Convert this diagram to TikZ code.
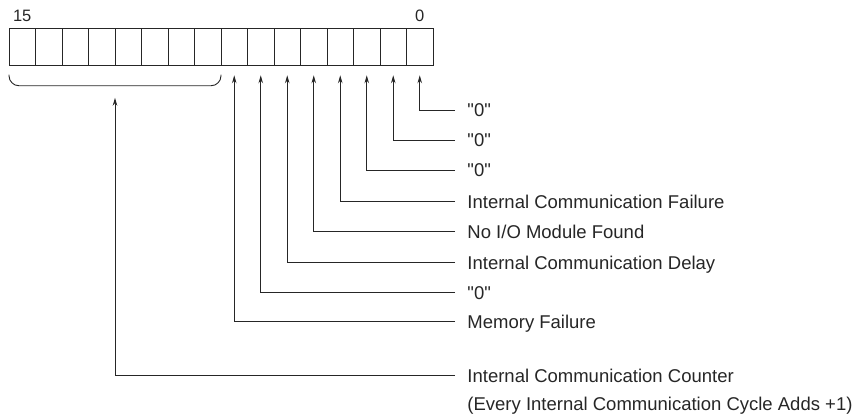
\documentclass[tikz,border=0pt]{standalone}
\usepackage{fontspec}
\setmainfont{Liberation Sans}[Ligatures=TeXOff]
\usetikzlibrary{arrows.meta,calc,positioning}
\newcommand{\Lbl}{\fontsize{18.5}{28}\selectfont}

\begin{document}
\begin{tikzpicture}[x=1pt, y=-1pt, >={Stealth[length=8pt,width=4.5pt]}, line width=0.9pt, color=black!85,
    cell/.style={draw, minimum width=26.5pt, minimum height=37.5pt, inner sep=0pt, outer sep=0pt},
    bitno/.style={anchor=base, inner sep=0pt, font=\fontsize{16.5}{18}\selectfont},
    lbl/.style={anchor=base west, inner sep=0pt, font=\Lbl}]

            \useasboundingbox (0,0) rectangle (856,414);

            % register cells, bit 15 on the left
            \foreach \b in {0,...,15}
                \draw({9+26.5*(15.5-\b)},47) node[cell] (c\b) {};
            \node[bitno] (n15) at ([yshift=6.5pt]c15.north) {15};
            \node[bitno] (n0) at ([yshift=6.5pt]c0.north) {0};

            % labels
            \draw(467,117) node[lbl] (l0) {"0"};
            \draw(467,147) node[lbl] (l1) {"0"};
            \draw(467,177) node[lbl] (l2) {"0"};
            \draw(467,208) node[lbl] (l3) {Internal Communication Failure};
            \draw(467,238) node[lbl] (l4) {No I/O Module Found};
            \draw(467,269) node[lbl] (l5) {Internal Communication Delay};
            \draw(467,299) node[lbl] (l6) {"0"};
            \draw(467,328) node[lbl] (l7) {Memory Failure};
            \draw(467,382) node[lbl] (lc) {\begin{tabular}[t]{@{}l@{}}Internal Communication Counter\\(Every Internal Communication Cycle Adds +1)\end{tabular}};

            \foreach \b in {0,...,7}
                \draw[->] ([xshift=-12pt,yshift=7pt]l\b.base west) -| ([yshift=-9.5pt]c\b.south);

            % brace under bits 15..8
            \coordinate (bl) at ([yshift=-9pt]c15.south west);
            \coordinate (br) at ([yshift=-9pt]c8.south east);
            \coordinate (bm) at ($(bl)!0.5!(br)+(0,11)$);
            \coordinate (bt) at ($(bm)+(0,12)$);
            \draw[rounded corners=10pt] (bl) |- (bm) -| (br);
            \draw[->] ([xshift=-12pt,yshift=7pt]lc.base west) -| (bt);

        \end{tikzpicture}
\end{document}
